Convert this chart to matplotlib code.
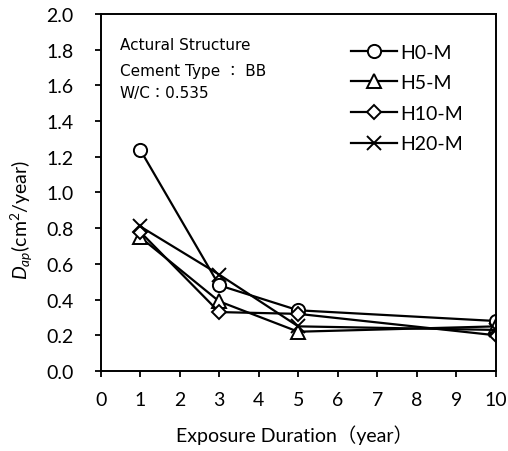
import matplotlib
matplotlib.use('Agg')
import matplotlib.pyplot as plt

plt.rcParams['font.family'] = ['Lato', 'Noto Sans CJK JP', 'DejaVu Sans']
plt.rcParams['mathtext.fontset'] = 'custom'
plt.rcParams['mathtext.it'] = 'Lato:italic'
plt.rcParams['mathtext.rm'] = 'Lato'

# exposure duration (year)
years = [1, 3, 5, 10]

# apparent diffusion coefficient (cm2/year)
H0_M = [1.24, 0.48, 0.34, 0.28]
H5_M = [0.75, 0.39, 0.22, 0.25]
H10_M = [0.78, 0.33, 0.32, 0.20]
H20_M = [0.81, 0.54, 0.25, 0.23]

series = [('H0-M', H0_M, 'o'), ('H5-M', H5_M, '^'),
          ('H10-M', H10_M, 'D'), ('H20-M', H20_M, 'x')]

fig = plt.figure(figsize=(5.08, 4.52), dpi=100)
ax = fig.add_axes([0.198, 0.177, 0.778, 0.790])

for name, vals, mk in series:
    ms = 9.5
    if mk == 'D':
        ms = 7
    if mk == 'x':
        ms = 10
    ax.plot(years, vals, color='black', lw=1.6, marker=mk, ms=ms,
            mfc='white', mec='black', mew=1.4, label=name)

ax.set_xlim(0, 10)
ax.set_ylim(0, 2.0)
ax.set_xticks(range(0, 11))
ax.set_yticks([i * 0.2 for i in range(11)])
ax.set_yticklabels(['%.1f' % (i * 0.2) for i in range(11)])
ax.tick_params(direction='out', length=4.3, width=1.3, labelsize=14)
ax.tick_params(axis='x', pad=10)
ax.tick_params(axis='y', pad=15)
for sp in ax.spines.values():
    sp.set_linewidth(1.4)

ax.set_xlabel('Exposure Duration（year）', fontsize=14)
ax.xaxis.set_label_coords(0.49, -0.15)
ax.set_ylabel('$D_{ap}$(cm$^2$/year)', fontsize=14)
ax.yaxis.set_label_coords(-0.166, 0.426)

note_font = ['DejaVu Sans', 'Noto Sans CJK JP']
ax.text(0.048, 0.913, 'Actural Structure', transform=ax.transAxes,
        fontsize=11, family=note_font, va='center')
ax.text(0.048, 0.842, 'Cement Type ： BB', transform=ax.transAxes,
        fontsize=11, family=note_font, va='center')
ax.text(0.048, 0.78, 'W/C：0.535', transform=ax.transAxes,
        fontsize=11, family=note_font, va='center')

ax.legend(loc='upper left', bbox_to_anchor=(0.633, 0.917), frameon=False,
          fontsize=14, handlelength=2.4, handletextpad=0.17,
          labelspacing=0.7, borderaxespad=0, borderpad=0)

fig.savefig('out.png', dpi=100)
